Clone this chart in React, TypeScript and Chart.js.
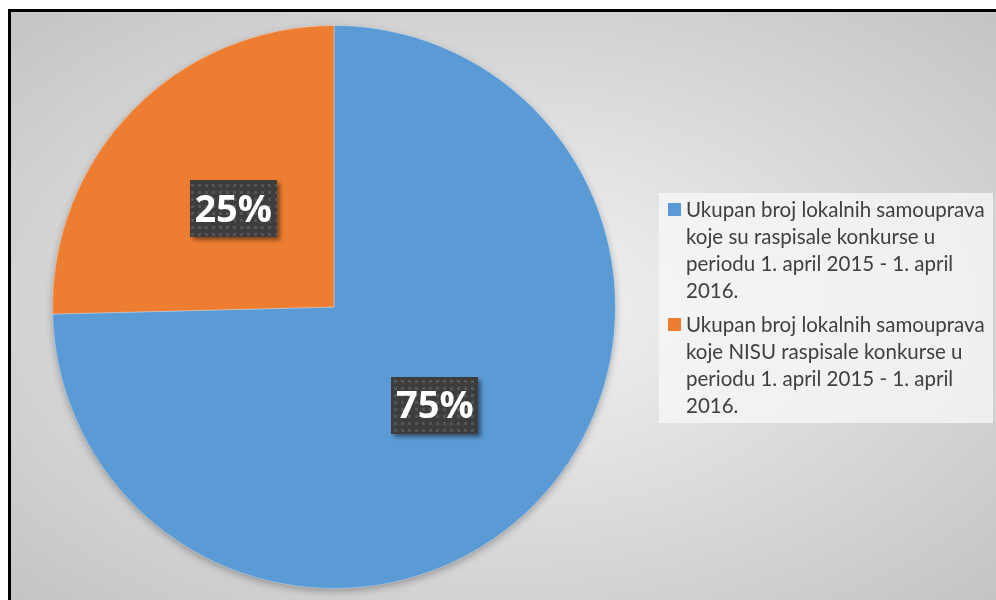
import React, { useEffect, useRef } from "react";
import { Chart, registerables } from "chart.js";

Chart.register(...registerables);

const legendLines: string[][] = [
  ["Ukupan broj lokalnih samouprava", "koje su raspisale konkurse u", "periodu 1. april 2015 - 1. april", "2016."],
  ["Ukupan broj lokalnih samouprava", "koje NISU raspisale konkurse u", "periodu 1. april 2015 - 1. april", "2016."],
];
const categories: string[] = legendLines.map((l) => l.join(" "));
const seriesValues: number[] = [74.6, 25.4];
const valueLabels: string[] = ["75%", "25%"];
const sliceColors: string[] = ["#5B9BD5", "#ED7D31"];

function makePattern(ctx: CanvasRenderingContext2D) {
  const c = document.createElement("canvas");
  c.width = 7;
  c.height = 7;
  const p = c.getContext("2d")!;
  p.fillStyle = "#3d3d3d";
  p.fillRect(0, 0, 7, 7);
  p.fillStyle = "#555555";
  p.fillRect(2, 2, 3, 3);
  return ctx.createPattern(c, "repeat");
}

const shadowPlugin = {
  id: "pieShadow",
  beforeDatasetsDraw(chart: any) {
    const meta = chart.getDatasetMeta(0);
    const arc = meta.data[0];
    if (!arc) return;
    const { x, y, outerRadius } = arc.getProps(["x", "y", "outerRadius"], true);
    const ctx = chart.ctx;
    ctx.save();
    ctx.shadowColor = "rgba(0,0,0,0.35)";
    ctx.shadowBlur = 8;
    ctx.shadowOffsetY = 3;
    ctx.beginPath();
    ctx.arc(x, y, outerRadius - 1, 0, Math.PI * 2);
    ctx.fillStyle = sliceColors[0];
    ctx.fill();
    ctx.restore();
  },
};

const boxLabelPlugin = {
  id: "boxLabels",
  afterDatasetsDraw(chart: any) {
    const ctx: CanvasRenderingContext2D = chart.ctx;
    const meta = chart.getDatasetMeta(0);
    const pattern = makePattern(ctx);
    meta.data.forEach((arc: any, i: number) => {
      const { x, y, startAngle, endAngle, outerRadius } = arc.getProps(
        ["x", "y", "startAngle", "endAngle", "outerRadius"],
        true
      );
      const mid = (startAngle + endAngle) / 2;
      const cx = x + Math.cos(mid) * outerRadius * 0.5;
      const cy = y + Math.sin(mid) * outerRadius * 0.5;
      const w = 87;
      const h = 57;
      ctx.save();
      ctx.shadowColor = "rgba(0,0,0,0.45)";
      ctx.shadowBlur = 4;
      ctx.shadowOffsetX = 3;
      ctx.shadowOffsetY = 3;
      ctx.fillStyle = pattern || "#404040";
      ctx.fillRect(Math.round(cx - w / 2), Math.round(cy - h / 2), w, h);
      ctx.restore();
      ctx.save();
      ctx.fillStyle = "#ffffff";
      ctx.font = "bold 38px 'Open Sans'";
      ctx.textAlign = "center";
      ctx.textBaseline = "middle";
      ctx.fillText(valueLabels[i], cx, cy + 2);
      ctx.restore();
    });
  },
};

export default function App() {
  const ref = useRef<HTMLCanvasElement | null>(null);

  useEffect(() => {
    if (!ref.current) return;
    const chart = new Chart(ref.current, {
      type: "pie",
      data: {
        labels: categories,
        datasets: [
          {
            data: seriesValues,
            backgroundColor: sliceColors,
            borderColor: "rgba(255,255,255,0.3)",
            borderWidth: 1,
          },
        ],
      },
      options: {
        animation: false,
        responsive: false,
        maintainAspectRatio: false,
        layout: { padding: { left: 52, right: 380, top: 25, bottom: 11 } },
        plugins: {
          legend: { display: false },
          tooltip: { enabled: false },
        },
      },
      plugins: [shadowPlugin, boxLabelPlugin],
    });
    return () => chart.destroy();
  }, []);

  return (
    <div style={{ position: "fixed", left: 0, top: 0, width: 996, height: 600, overflow: "hidden" }}>
      <div
        style={{
          position: "absolute",
          left: 8,
          top: 9,
          width: 988,
          height: 591,
          boxSizing: "border-box",
          borderTop: "3px solid #000",
          borderLeft: "3px solid #000",
          background: "radial-gradient(ellipse farthest-corner at 50% 50%, #f4f4f4 0%, #c4c4c4 100%)",
        }}
      />
      <canvas
        ref={ref}
        width={996}
        height={600}
        style={{ position: "absolute", left: 0, top: 0, width: 996, height: 600 }}
      />
      <div
        style={{
          position: "absolute",
          left: 659,
          top: 193,
          width: 334,
          height: 230,
          background: "rgba(246,246,246,0.8)",
          fontFamily: "Lato, 'Open Sans', sans-serif",
          fontSize: 20.5,
          lineHeight: "27px",
          color: "#404040",
          boxSizing: "border-box",
          paddingTop: 3,
        }}
      >
        {legendLines.map((lines, i) => (
          <div key={i} style={{ position: "relative", paddingLeft: 27, marginBottom: 7, whiteSpace: "nowrap" }}>
            <span
              style={{
                position: "absolute",
                left: 9,
                top: 7,
                width: 13,
                height: 13,
                background: sliceColors[i],
              }}
            />
            {lines.map((t, j) => (
              <div key={j}>{t}</div>
            ))}
          </div>
        ))}
      </div>
    </div>
  );
}
